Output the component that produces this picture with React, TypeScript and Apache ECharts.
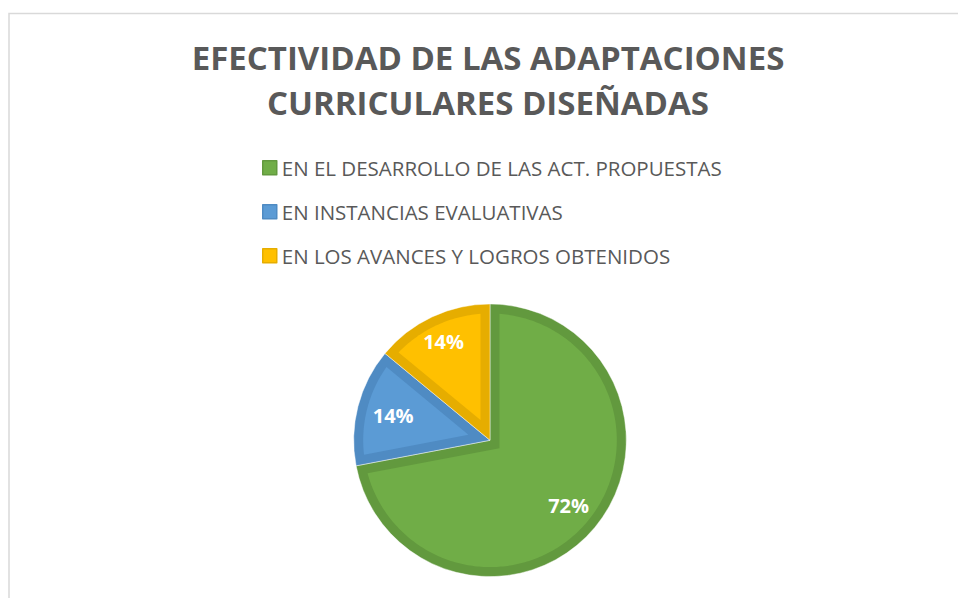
import React, { useEffect, useRef } from "react";
import * as echarts from "echarts";

const TITLE_LINES = ["EFECTIVIDAD DE LAS ADAPTACIONES", "CURRICULARES DISEÑADAS"];
const CATEGORIES = [
  "EN EL DESARROLLO DE LAS ACT. PROPUESTAS",
  "EN INSTANCIAS EVALUATIVAS",
  "EN LOS AVANCES Y LOGROS OBTENIDOS",
];
const VALUES = [72, 14, 14];

// styles
const FILL = ["#70AD47", "#5B9BD5", "#FFC000"];
const EDGE = ["#62993E", "#4F8BC3", "#E6AD00"];
const LABEL_R = [102, 100, 109];
const CX = 490;
const CY = 440.3;
const R = 136.3;
const INSET = 9.5;
const FONT = '"Open Sans", "DejaVu Sans", sans-serif';

function pt(a: number, r: number): number[] {
  return [CX + r * Math.sin(a), CY - r * Math.cos(a)];
}

export default function App() {
  const ref = useRef<HTMLDivElement>(null);
  useEffect(() => {
    if (!ref.current) return;
    const chart = echarts.init(ref.current, null, { renderer: "svg" });
    const total = VALUES.reduce((a, b) => a + b, 0);

    const renderItem = (params: any, api: any) => {
      const i = params.dataIndex;
      const v = api.value(0);
      let acc = 0;
      for (let k = 0; k < i; k++) acc += VALUES[k];
      const a0 = (acc / total) * 2 * Math.PI;
      const a1 = ((acc + v) / total) * 2 * Math.PI;
      const th = a1 - a0;
      const apex = pt((a0 + a1) / 2, INSET / Math.sin(th / 2));
      const rho = R - INSET;
      const dl = Math.asin(INSET / rho);
      const s = a0 + dl;
      const e = a1 - dl;
      const n = Math.max(8, Math.ceil(((e - s) * 180) / Math.PI));
      const points: number[][] = [apex];
      for (let k = 0; k <= n; k++) points.push(pt(s + ((e - s) * k) / n, rho));
      const lp = pt((a0 + a1) / 2, LABEL_R[i]);
      return {
        type: "group",
        children: [
          { type: "polygon", shape: { points }, style: { fill: FILL[i] } },
          {
            type: "text",
            x: lp[0],
            y: lp[1],
            style: {
              text: Math.round((v / total) * 100) + "%",
              fill: "#ffffff",
              fontSize: 20,
              fontWeight: "bold",
              fontFamily: FONT,
              align: "center",
              verticalAlign: "middle",
            },
          },
        ],
      };
    };

    chart.setOption({
      animation: false,
      backgroundColor: "#ffffff",
      graphic: [
        {
          type: "rect",
          silent: true,
          z: -1,
          shape: { x: 9, y: 13.5, width: 1200, height: 900 },
          style: { fill: "none", stroke: "#d9d9d9", lineWidth: 1.5 },
        },
        ...TITLE_LINES.map((t, i) => ({
          type: "text",
          silent: true,
          x: 488,
          y: 57.5 + i * 44.5,
          style: {
            text: t,
            fill: "#595959",
            fontSize: 33,
            fontWeight: "bold",
            fontFamily: FONT,
            align: "center",
            verticalAlign: "middle",
          },
        })),
      ],
      legend: {
        orient: "vertical",
        left: 262,
        top: 156.7,
        padding: 0,
        itemWidth: 14,
        itemHeight: 14,
        itemGap: 22,
        icon: "rect",
        selectedMode: false,
        textStyle: { color: "#595959", fontSize: 20.5, fontFamily: FONT, lineHeight: 22 },
        data: CATEGORIES.map((n, i) => ({
          name: n,
          itemStyle: { color: FILL[i], borderColor: EDGE[i], borderWidth: 1.5 },
        })),
      },
      series: [
        {
          type: "pie",
          center: [CX, CY],
          radius: R,
          startAngle: 90,
          clockwise: true,
          silent: true,
          label: { show: false },
          labelLine: { show: false },
          emphasis: { disabled: true },
          data: CATEGORIES.map((n, i) => ({
            name: n,
            value: VALUES[i],
            itemStyle: { color: EDGE[i], borderColor: "rgba(255,255,255,0.55)", borderWidth: 0.8 },
          })),
        },
        {
          type: "custom",
          coordinateSystem: "none",
          silent: true,
          z: 3,
          renderItem,
          data: VALUES.map((v) => [v]),
        },
      ],
    });
    return () => chart.dispose();
  }, []);
  return (
    <div
      ref={ref}
      style={{ position: "fixed", left: 0, top: 0, width: 958, height: 598 }}
    />
  );
}
